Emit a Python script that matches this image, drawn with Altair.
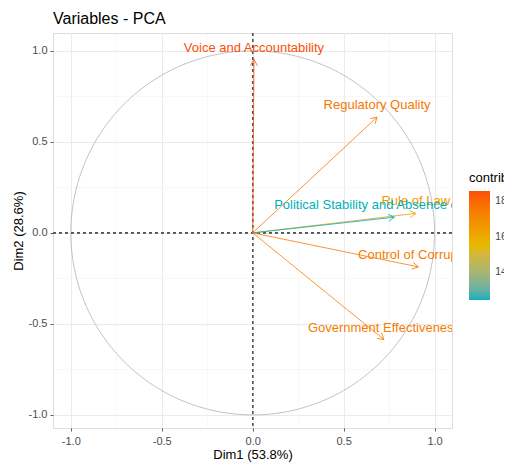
import altair as alt
import numpy as np
import pandas as pd

variables = ["Voice and Accountability", "Regulatory Quality", "Rule of Law",
             "Political Stability and Absence of Violence", "Control of Corruption",
             "Government Effectiveness"]
dim1 = [0.007, 0.684, 0.897, 0.779, 0.911, 0.722]
dim2 = [0.952, 0.636, 0.107, 0.086, -0.187, -0.586]
contrib = [18.58, 17.61, 16.48, 12.40, 17.47, 17.45]

x_title = "Dim1 (53.8%)"
y_title = "Dim2 (28.6%)"
grid_values = [-1, -0.75, -0.5, -0.25, 0, 0.25, 0.5, 0.75, 1]
legend_values = [14, 16, 18]

FONT = "Liberation Sans"

df = pd.DataFrame({"name": variables, "x": dim1, "y": dim2, "contrib": contrib,
                   "x0": [0.0] * len(dim1), "y0": [0.0] * len(dim1)})

# unit correlation circle (geometric reference)
t = np.linspace(0, 2 * np.pi, 241)
circle = pd.DataFrame({"x": np.cos(t), "y": np.sin(t), "i": np.arange(len(t))})

major = "abs(datum.value*2 - round(datum.value*2)) < 0.001"
label_expr = f"{major} ? replace(format(datum.value, '.1f'), '\u2212', '-') : ''"


def make_axis(title, label_pad, title_pad):
    return alt.Axis(
        values=grid_values, title=title, labelExpr=label_expr,
        domain=False, tickSize=3, tickColor="#333333", tickWidth=0.8,
        tickOpacity={"condition": {"test": major, "value": 1}, "value": 0},
        gridColor={"condition": {"test": major, "value": "#EBEBEB"}, "value": "#F3F3F3"},
        gridWidth={"condition": {"test": major, "value": 1}, "value": 0.6},
        labelFont=FONT, labelFontSize=11, labelColor="#4D4D4D", labelPadding=label_pad,
        titleFont=FONT, titleFontSize=13, titleColor="black", titleFontWeight="normal",
        titlePadding=title_pad,
    )


xs = alt.Scale(domain=[-1.098, 1.096], nice=False, zero=False)
ys = alt.Scale(domain=[-1.072, 1.098], nice=False, zero=False)

color_scale = alt.Scale(domain=[min(contrib), max(contrib)],
                        range=["#00AFBB", "#E7B800", "#FC4E07"], interpolate="lab")
color_legend = alt.Legend(
    type="gradient",
    title="contrib", orient="none", legendX=416, legendY=139,
    values=legend_values, gradientLength=109, gradientThickness=21,
    gradientStrokeWidth=0,
    titleFont=FONT, titleFontSize=13, titleColor="black",
    titleFontWeight="normal", labelFont=FONT, labelFontSize=11, labelColor="#4D4D4D",
    labelOffset=5, titlePadding=6,
)

circ = alt.Chart(circle).mark_line(color="#B3B3B3", strokeWidth=0.8).encode(
    x=alt.X("x:Q", scale=xs, axis=make_axis(x_title, 4, 2)),
    y=alt.Y("y:Q", scale=ys, axis=make_axis(y_title, 3, 3)),
    order="i:Q",
)

hline = alt.Chart(df).mark_rule(color="#555555", strokeDash=[3, 3], strokeWidth=0.8).encode(
    y=alt.datum(0))
vline = alt.Chart(df).mark_rule(color="#555555", strokeDash=[3, 3], strokeWidth=0.8).encode(
    x=alt.datum(0))

arrows = alt.Chart(df).mark_rule(strokeWidth=0.8).encode(
    x="x0:Q", y="y0:Q", x2="x:Q", y2="y:Q",
    color=alt.Color("contrib:Q", scale=color_scale, legend=color_legend),
)

heads = alt.Chart(df).transform_calculate(
    ang="(atan2(datum.x, datum.y) * 180 / PI + 360) % 360"
).mark_point(shape="M -0.5 0.866 L 0 0 L 0.5 0.866", filled=False, size=196,
             strokeWidth=0.8, opacity=1).encode(
    x="x:Q", y="y:Q",
    angle=alt.Angle("ang:Q", scale=None),
    color=alt.Color("contrib:Q", scale=color_scale, legend=None),
)

labels = alt.Chart(df).mark_text(font=FONT, fontSize=13, baseline="middle", align="center",
                                 dy=-12, clip=True).encode(
    x="x:Q", y="y:Q", text="name:N",
    color=alt.Color("contrib:Q", scale=color_scale, legend=None),
)

chart = alt.layer(circ, hline, vline, arrows, heads, labels).resolve_legend(
    color="independent"
).properties(
    width=399, height=395,
    autosize="none",
    padding={"left": 45, "top": 25, "right": 52, "bottom": 35},
    title=alt.TitleParams("Variables - PCA", anchor="start", frame="group", fontSize=16,
                          font=FONT, fontWeight="normal", color="black", offset=6),
).configure_view(stroke=None).configure(background="white")

chart.save("out.html", embed_options={"renderer": "svg", "actions": False})
